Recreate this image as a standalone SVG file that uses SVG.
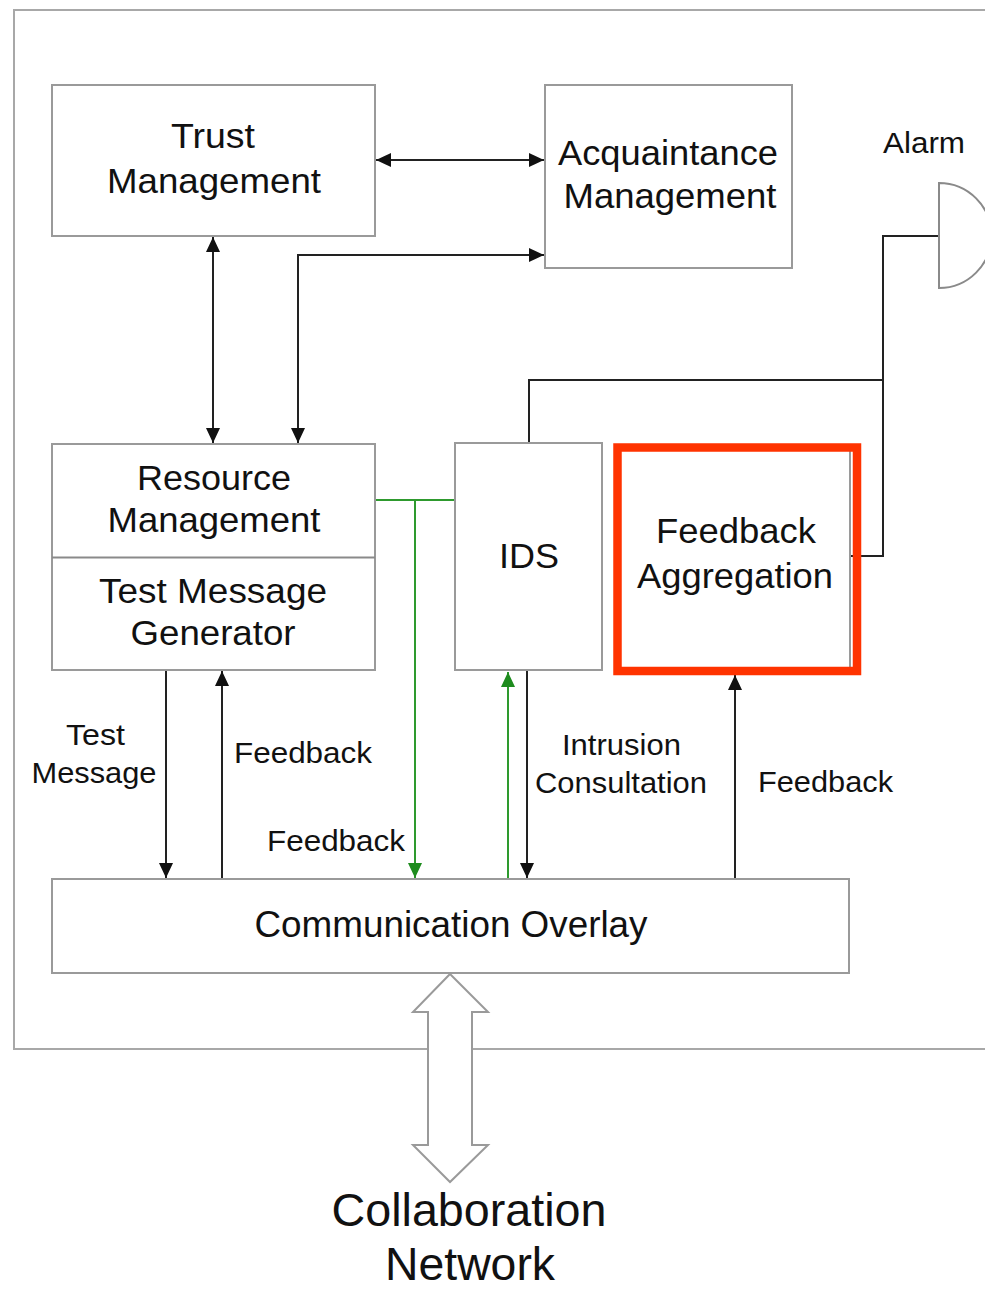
<svg xmlns="http://www.w3.org/2000/svg" width="985" height="1290" viewBox="0 0 985 1290">
  <defs>
    <marker id="ah" viewBox="0 0 15 14" refX="15" refY="7" markerWidth="15" markerHeight="14" markerUnits="userSpaceOnUse" orient="auto-start-reverse">
      <path d="M0,0 L15,7 L0,14 Z" fill="#111"/>
    </marker>
    <marker id="ahg" viewBox="0 0 15 14" refX="15" refY="7" markerWidth="15" markerHeight="14" markerUnits="userSpaceOnUse" orient="auto-start-reverse">
      <path d="M0,0 L15,7 L0,14 Z" fill="#1e8c1e"/>
    </marker>
    <style>
      .box { fill: #fff; stroke: #9a9a9a; stroke-width: 2; }
      .frame { fill: none; stroke: #a8a8a8; stroke-width: 2; }
      .wire { fill: none; stroke: #222; stroke-width: 2; }
      .green { fill: none; stroke: #2e9a2e; stroke-width: 2; }
      .hl { fill: none; stroke: #ff3300; stroke-width: 8.5; }
      text { font-family: "Liberation Sans", Arial, sans-serif; fill: #111; text-anchor: middle; }
      .big { font-size: 35px; }
      .lbl { font-size: 29px; }
      .net { font-size: 47px; }
    </style>
  </defs>

  <rect width="985" height="1290" fill="#fff"/>

  <!-- outer node boundary -->
  <rect class="frame" x="14" y="10" width="990" height="1039"/>

  <g id="connectors">
    <!-- trust <-> acquaintance -->
    <line class="wire" x1="376" y1="160" x2="544" y2="160" marker-start="url(#ah)" marker-end="url(#ah)"/>
    <!-- trust <-> resource -->
    <line class="wire" x1="213" y1="237" x2="213" y2="443" marker-start="url(#ah)" marker-end="url(#ah)"/>
    <!-- resource <-> acquaintance -->
    <polyline class="wire" points="298,443 298,255 544,255" marker-start="url(#ah)" marker-end="url(#ah)"/>
    <!-- test message down -->
    <line class="wire" x1="166" y1="671" x2="166" y2="878" marker-end="url(#ah)"/>
    <!-- feedback up to resource -->
    <line class="wire" x1="222" y1="879" x2="222" y2="671" marker-end="url(#ah)"/>
    <!-- green feedback path from resource/IDS -->
    <polyline class="green" points="375,500 455,500 455,557"/>
    <line class="green" x1="415" y1="500" x2="415" y2="878" marker-end="url(#ahg)"/>
    <!-- green up into IDS -->
    <line class="green" x1="508" y1="879" x2="508" y2="672" marker-end="url(#ahg)"/>
    <!-- intrusion consultation down -->
    <line class="wire" x1="527" y1="671" x2="527" y2="878" marker-end="url(#ah)"/>
    <!-- feedback up to aggregation -->
    <line class="wire" x1="735" y1="879" x2="735" y2="675" marker-end="url(#ah)"/>
    <!-- IDS and aggregation to alarm -->
    <polyline class="wire" points="529,443 529,380 883,380"/>
    <polyline class="wire" points="850,556 883,556 883,236 939,236"/>
  </g>

  <g id="trust-management">
    <rect class="box" x="52" y="85" width="323" height="151"/>
    <text class="big" x="213" y="148" textLength="84" lengthAdjust="spacingAndGlyphs">Trust</text>
    <text class="big" x="214" y="193" textLength="214" lengthAdjust="spacingAndGlyphs">Management</text>
  </g>

  <g id="acquaintance-management">
    <rect class="box" x="545" y="85" width="247" height="183"/>
    <text class="big" x="668" y="165" textLength="220" lengthAdjust="spacingAndGlyphs">Acquaintance</text>
    <text class="big" x="670" y="208" textLength="213" lengthAdjust="spacingAndGlyphs">Management</text>
  </g>

  <g id="alarm">
    <text class="lbl" x="924" y="153" textLength="82" lengthAdjust="spacingAndGlyphs">Alarm</text>
    <path d="M939,183 L939,288 A52.5,52.5 0 0 0 939,183 Z" fill="#fff" stroke="#8a8a8a" stroke-width="2"/>
  </g>

  <g id="resource-management">
    <rect class="box" x="52" y="444" width="323" height="226"/>
    <line x1="52" y1="557.5" x2="375" y2="557.5" stroke="#8a8a8a" stroke-width="2"/>
    <text class="big" x="214" y="490" textLength="154" lengthAdjust="spacingAndGlyphs">Resource</text>
    <text class="big" x="214" y="532" textLength="213" lengthAdjust="spacingAndGlyphs">Management</text>
    <text class="big" x="213" y="603" textLength="228" lengthAdjust="spacingAndGlyphs">Test Message</text>
    <text class="big" x="213" y="645" textLength="165" lengthAdjust="spacingAndGlyphs">Generator</text>
  </g>

  <g id="ids">
    <rect class="box" x="455" y="443" width="147" height="227"/>
    <text class="big" x="529" y="568" textLength="60" lengthAdjust="spacingAndGlyphs">IDS</text>
  </g>

  <g id="feedback-aggregation">
    <rect class="box" x="619" y="449" width="231" height="219"/>
    <rect class="hl" x="617.5" y="447.5" width="239.5" height="223.5"/>
    <text class="big" x="736" y="543" textLength="160" lengthAdjust="spacingAndGlyphs">Feedback</text>
    <text class="big" x="735" y="588" textLength="196" lengthAdjust="spacingAndGlyphs">Aggregation</text>
  </g>

  <g id="communication-overlay">
    <rect class="box" x="52" y="879" width="797" height="94"/>
    <text style="font-size:36px" x="451" y="937" textLength="393" lengthAdjust="spacingAndGlyphs">Communication Overlay</text>
  </g>

  <g id="connector-labels">
    <text class="lbl" x="95.5" y="745" textLength="59" lengthAdjust="spacingAndGlyphs">Test</text>
    <text class="lbl" x="94" y="783" textLength="125" lengthAdjust="spacingAndGlyphs">Message</text>
    <text class="lbl" x="303" y="763" textLength="138" lengthAdjust="spacingAndGlyphs">Feedback</text>
    <text class="lbl" x="336" y="851" textLength="138" lengthAdjust="spacingAndGlyphs">Feedback</text>
    <text class="lbl" x="621.5" y="755" textLength="119" lengthAdjust="spacingAndGlyphs">Intrusion</text>
    <text class="lbl" x="621" y="793" textLength="172" lengthAdjust="spacingAndGlyphs">Consultation</text>
    <text class="lbl" x="825.5" y="792" textLength="135" lengthAdjust="spacingAndGlyphs">Feedback</text>
  </g>

  <g id="collaboration-network">
    <polygon points="450,974 488,1012 472,1012 472,1145 488,1145 450,1182 413,1145 428,1145 428,1012 413,1012" fill="#fff" stroke="#9a9a9a" stroke-width="2"/>
    <text class="net" x="469" y="1226" textLength="275" lengthAdjust="spacingAndGlyphs">Collaboration</text>
    <text class="net" x="470" y="1280" textLength="170" lengthAdjust="spacingAndGlyphs">Network</text>
  </g>
</svg>
